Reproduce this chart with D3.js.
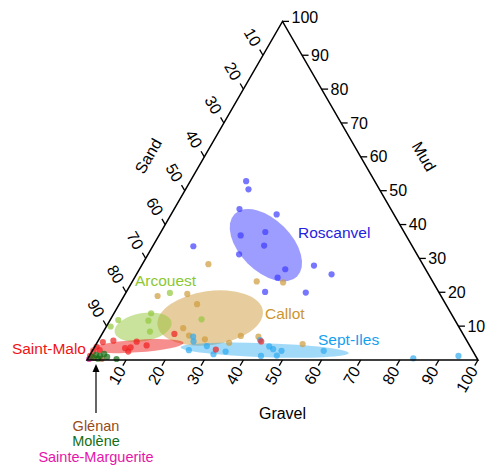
<!DOCTYPE html>
<html><head><meta charset="utf-8">
<script src="https://cdn.jsdelivr.net/npm/d3@7"></script>
<style>
body{margin:0;background:#fff}
svg{display:block}
text{font-family:"Liberation Sans",Arial,Helvetica,sans-serif}
</style>
</head><body>
<svg id="chart" width="489" height="465"></svg>
<script>
// ---------- data ----------
const gravelTicks = [10,20,30,40,50,60,70,80,90,100];
const sandTicks   = [10,20,30,40,50,60,70,80,90];
const mudTicks    = [10,20,30,40,50,60,70,80,90,100];

// samples: [sand, gravel, mud] (%)
const roscanvel = [
  [32.9,14.3,52.8],[33.5,16.1,50.4],[38.7,16.7,44.6],[30.0,27.0,43.0],
  [42.3,20.9,36.8],[35.5,26.7,37.8],[37.8,28.4,33.8],[56.0,10.4,33.6],
  [45.5,23.3,31.2],[35.9,37.3,26.8],[28.0,44.1,27.9],[24.8,49.9,25.3],
  [39.1,36.6,24.3],[44.4,35.5,20.1],[34.1,46.0,19.9]
];
const callot = [
  [54.8,16.9,28.3],[45.0,31.8,23.2],[38.4,38.7,22.9],[72.5,8.6,18.9],
  [64.6,15.9,19.5],[63.6,19.9,16.5],[70.7,19.9,9.4],[70.3,22.5,7.2],
  [61.1,33.8,5.1],[57.1,35.8,7.1],[52.7,40.4,6.9],[42.5,52.8,4.7],
  [66.8,27.1,6.1]
];
const arcouest = [
  [68.9,11.3,19.8],[76.7,9.5,13.8],[78.5,9.9,11.6],[79.7,11.9,8.4],
  [86.1,2.1,11.8],[89.0,1.1,9.9],[64.7,23.3,12.0]
];
const saintMalo = [
  [93.3,1.4,5.3],[90.4,3.9,5.7],[95.3,1.8,2.9],[95.6,0.5,3.9],
  [88.5,8.0,3.5],[88.2,9.3,2.5],[87.0,9.3,3.7],[82.6,13.1,4.3],
  [84.6,10.0,5.4],[73.8,18.5,7.7],[52.7,41.8,5.5],[97.2,0.4,2.4],
  [98.6,0.2,1.2],[65.5,31.4,3.1]
];
const septIles = [
  [72.5,24.6,2.9],[69.4,23.7,6.9],[70.0,24.5,5.5],[67.3,28.6,4.1],
  [66.8,31.5,1.7],[63.3,34.2,2.5],[52.8,41.3,5.9],[51.4,44.6,4.0],
  [50.8,46.0,3.2],[48.9,48.4,2.7],[50.8,47.9,1.3],[54.9,43.9,1.2],
  [38.1,59.2,2.7],[16.3,83.2,0.5],[4.4,94.4,1.2]
];
const glenan = [[97.9,1.5,0.6],[96.0,3.6,0.4]];
const molene = [
  [98.3,0.8,0.9],[96.9,1.6,1.5],[96.1,2.7,1.2],[94.7,3.5,1.8],
  [94.4,4.7,0.9],[97.0,2.6,0.4],[92.3,7.4,0.3]
];
const sainteMarguerite = [[99.3,0.4,0.3]];

// group summary ellipses: centre [sand, gravel, mud], semi-axes (% of side), angle (deg)
const ellipseGroups = ["Callot","Arcouest","Roscanvel","Saint-Malo","Sept-Iles"];
const ellipseCentres = [[62.3,25.3,12.4],[80.8,9.5,9.7],[37.3,28.8,33.9],[85.2,10.7,4.1],[53.1,44.0,2.9]];
const ellipseAxes = [[13.6,6.9],[7.4,3.6],[11.3,6.6],[12.0,1.6],[21.5,1.8]];
const ellipseAngles = [-8,-10,45,-4,2];

// ---------- style ----------
const colors = {
  "Roscanvel":"#3c3cff","Callot":"#cf9b3c","Arcouest":"#93c83c",
  "Saint-Malo":"#f01e1e","Sept-Iles":"#2eaaf0","Glénan":"#96501e",
  "Molène":"#146e14","Sainte-Marguerite":"#e61eaa"
};
const labelColors = {
  "Roscanvel":"#2323e0","Callot":"#cc9630","Arcouest":"#8cc832",
  "Saint-Malo":"#f01414","Sept-Iles":"#14a0f0","Glénan":"#964b19",
  "Molène":"#146e14","Sainte-Marguerite":"#e614aa"
};

// ---------- layout ----------
const svg = d3.select("#chart");
const x0 = 87, y0 = 360, side = 391;
const s = d3.scaleLinear().domain([0,100]).range([0, side]);
const r3 = Math.sqrt(3)/2;
function proj(sand, gravel, mud){ return [x0 + s(gravel + mud/2), y0 - s(mud)*r3]; }

const BL = proj(100,0,0), BR = proj(0,100,0), T = proj(0,0,100);

// ellipses
const eg = svg.append("g");
ellipseGroups.forEach((g,i)=>{
  const c = proj(...ellipseCentres[i]);
  eg.append("ellipse")
    .attr("transform",`translate(${c[0]},${c[1]}) rotate(${ellipseAngles[i]})`)
    .attr("rx", s(ellipseAxes[i][0])).attr("ry", s(ellipseAxes[i][1]))
    .attr("fill", colors[g]).attr("fill-opacity", g==="Sept-Iles"?0.45:0.5);
});

// points
const series = [
  ["Callot",callot],["Arcouest",arcouest],["Roscanvel",roscanvel],
  ["Sept-Iles",septIles],["Saint-Malo",saintMalo],["Glénan",glenan],
  ["Sainte-Marguerite",sainteMarguerite],["Molène",molene]
];
const pg = svg.append("g");
series.forEach(([g,data])=>{
  pg.selectAll(null).data(data).enter().append("circle")
    .attr("cx",d=>proj(...d)[0]).attr("cy",d=>proj(...d)[1])
    .attr("r",3.1).attr("fill",colors[g]).attr("fill-opacity",0.7);
});

// triangle
svg.append("path")
  .attr("d", d3.line()([BL,BR,T,BL]) + "Z")
  .attr("fill","none").attr("stroke","#000").attr("stroke-width",1.5)
  .attr("stroke-linejoin","miter");

// axes
const tickLen = 6.5, gap = 2.5, fs = 16;
const ax = svg.append("g").attr("font-size",fs).attr("fill","#000");
function drawTicks(ticks, pt, dir, labelFn){
  ticks.forEach(v=>{
    const p = pt(v);
    const tip = [p[0]+dir[0]*tickLen, p[1]+dir[1]*tickLen];
    ax.append("line").attr("x1",p[0]).attr("y1",p[1]).attr("x2",tip[0]).attr("y2",tip[1])
      .attr("stroke","#000").attr("stroke-width",1.3);
    labelFn(v, [tip[0]+dir[0]*gap, tip[1]+dir[1]*gap]);
  });
}
// Gravel (bottom)
drawTicks(gravelTicks, v=>proj(100-v,v,0), [-0.5, r3], (v,q)=>{
  ax.append("text").attr("transform",`translate(${q[0]},${q[1]}) rotate(-60)`)
    .attr("text-anchor","end").attr("dy","0.35em").text(v);
});
// Sand (left)
drawTicks(sandTicks, v=>proj(v,0,100-v), [-0.5,-r3], (v,q)=>{
  ax.append("text").attr("transform",`translate(${q[0]-1.5},${q[1]-2.5}) rotate(60)`)
    .attr("text-anchor","end").attr("dy","0.35em").text(v);
});
// Mud (right)
drawTicks(mudTicks, v=>proj(0,100-v,v), [1,0], (v,q)=>{
  ax.append("text").attr("x",q[0]).attr("y",q[1]).attr("dy", v===100?"0.1em":"0.35em")
    .attr("text-anchor","start").text(v);
});

// axis titles
const mid = (a,b,t)=>[a[0]+(b[0]-a[0])*t, a[1]+(b[1]-a[1])*t];
let m = mid(BL,T,0.53);
ax.append("text").attr("transform",`translate(${m[0]-0.866*49},${m[1]-0.5*49}) rotate(-60)`)
  .attr("text-anchor","middle").attr("dy","0.35em").text("Sand");
m = mid(BR,T,0.52);
ax.append("text").attr("transform",`translate(${m[0]+0.866*55},${m[1]-0.5*55}) rotate(60)`)
  .attr("text-anchor","middle").attr("dy","0.35em").text("Mud");
m = mid(BL,BR,0.5);
ax.append("text").attr("x",m[0]).attr("y",m[1]+53).attr("text-anchor","middle").attr("dy","0.35em").text("Gravel");

// group labels
const lg = svg.append("g").attr("font-size",15.5);
const groupLabels = [
  ["Roscanvel", 298, 233, "start"],
  ["Callot", 265, 314, "start"],
  ["Arcouest", 135, 281, "start"],
  ["Saint-Malo", 86, 349, "end"],
  ["Sept-Iles", 318, 340, "start"]
];
groupLabels.forEach(([g,x,y,anc])=>{
  lg.append("text").attr("x",x).attr("y",y).attr("dy","0.35em")
    .attr("text-anchor",anc).attr("fill",labelColors[g]).text(g);
});
// arrow and bottom-left labels
const ay = [413, 364];
svg.append("line").attr("x1",96).attr("y1",ay[0]).attr("x2",96).attr("y2",ay[1]+6)
  .attr("stroke","#000").attr("stroke-width",1.2);
svg.append("path").attr("d",`M96,${ay[1]} L92.5,${ay[1]+8} L99.5,${ay[1]+8} Z`).attr("fill","#000");
const bg = svg.append("g").attr("font-size",14.5);
[["Glénan",425.5],["Molène",441],["Sainte-Marguerite",456.5]].forEach(([g,y])=>{
  bg.append("text").attr("x",96).attr("y",y).attr("dy","0.35em")
    .attr("text-anchor","middle").attr("fill",labelColors[g]).text(g);
});
</script>
</body></html>
